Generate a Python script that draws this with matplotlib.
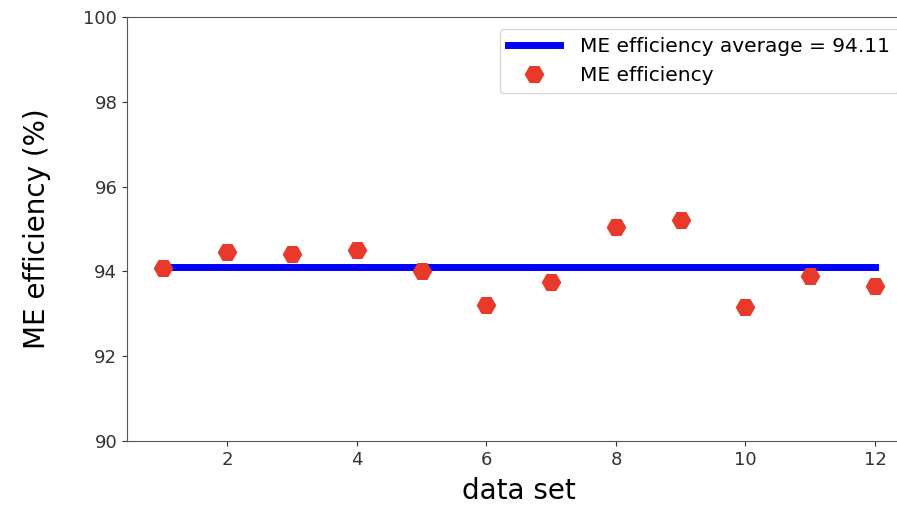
import numpy as np
import matplotlib
matplotlib.use("Agg")
from matplotlib import pyplot as plt

# values
data_set = [1, 2, 3, 4, 5, 6, 7, 8, 9, 10, 11, 12]
me_efficiency = [94.08, 94.46, 94.41, 94.50, 94.01, 93.21,
                 93.75, 95.05, 95.22, 93.16, 93.89, 93.66]
me_average = 94.11

fig = plt.figure(figsize=(8.97, 5.12), dpi=100)
# the reference is cropped on the right, so the axes run past the figure edge
ax = fig.add_axes([0.1416, 0.1387, 0.8736, 0.828])

ax.plot([data_set[0], data_set[-1]], [me_average, me_average],
        color="blue", linewidth=5,
        label=f"ME efficiency average = {me_average:.2f}")
ax.plot(data_set, me_efficiency, linestyle="none", marker="H",
        markersize=13, color="#e8392a",
        label="ME efficiency")

ax.set_ylim(90, 100)
ax.set_xticks([2, 4, 6, 8, 10, 12])
ax.tick_params(labelsize=13, colors="#333333")
ax.set_xlabel("data set", fontsize=20)
ax.set_ylabel("ME efficiency (%)", fontsize=20)
ax.xaxis.set_label_coords(0.5, -0.085)
ax.yaxis.set_label_coords(-0.097, 0.5)
for s in ax.spines.values():
    s.set_color("#555555")
ax.spines["right"].set_visible(False)

ax.legend(loc="upper right", fontsize=14.5, handlelength=2.6,
          handletextpad=1.0, borderaxespad=0.6)

fig.savefig("out.png", dpi=100)
